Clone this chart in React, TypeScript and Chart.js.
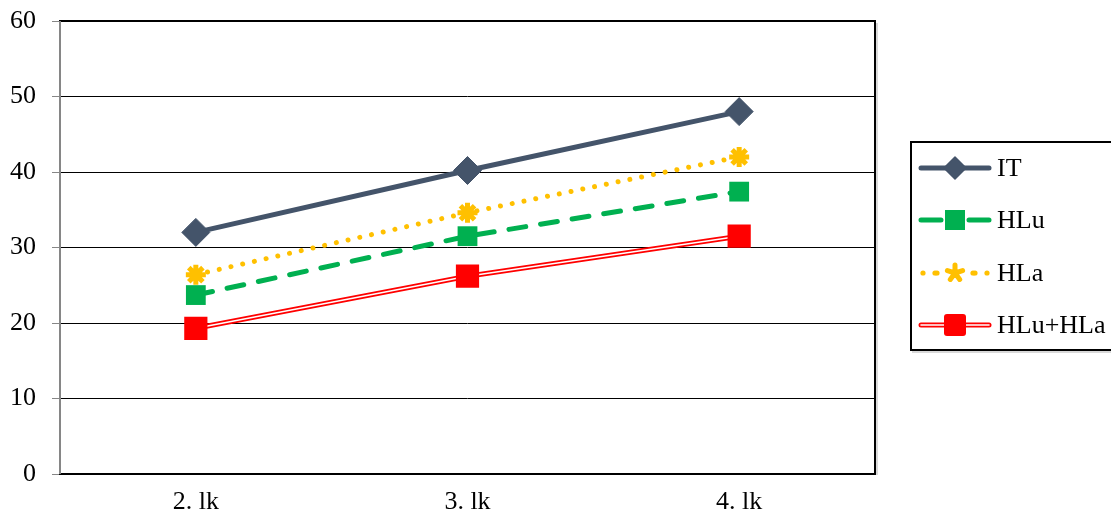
import React, { useEffect, useRef } from "react";
import { Chart, registerables } from "chart.js";

Chart.register(...registerables);

// Categories and series
const categories = ["2. lk", "3. lk", "4. lk"];
const itValues = [32, 40.2, 48];
const hluValues = [23.7, 31.5, 37.4];
const hlaValues = [26.4, 34.6, 42];
const hluHlaValues = [19.3, 26.2, 31.5];
const yTicks = [0, 10, 20, 30, 40, 50, 60];

const FONT = "'Liberation Serif', 'Times New Roman', serif";
const FONT_SIZE = 26;
const C_IT = "#44546A";
const C_HLU = "#00B050";
const C_HLA = "#FFC000";
const C_SUM = "#FF0000";
const AXIS_GREY = "#868686";

// Frame around the plot area and the grey value axis
const framePlugin = {
  id: "frame",
  beforeDatasetsDraw(chart: any) {
    const { ctx, chartArea } = chart;
    const { left, right, top, bottom } = chartArea;
    ctx.save();
    ctx.strokeStyle = "#d9d9d9";
    ctx.lineWidth = 2;
    ctx.beginPath();
    ctx.moveTo(right + 2, top + 2);
    ctx.lineTo(right + 2, bottom + 1);
    ctx.stroke();
    ctx.strokeStyle = "#000";
    ctx.lineWidth = 2;
    ctx.strokeRect(left, top, right - left, bottom - top);
    ctx.strokeStyle = AXIS_GREY;
    ctx.lineWidth = 2;
    ctx.beginPath();
    ctx.moveTo(left, top);
    ctx.lineTo(left, bottom);
    ctx.stroke();
    ctx.restore();
  },
};

type LegendItem = {
  label: string;
  draw: (ctx: CanvasRenderingContext2D, x0: number, x1: number, y: number) => void;
};

const legendItems: LegendItem[] = [
  {
    label: "IT",
    draw(ctx, x0, x1, y) {
      ctx.strokeStyle = C_IT;
      ctx.lineWidth = 5;
      ctx.lineCap = "round";
      ctx.beginPath();
      ctx.moveTo(x0, y);
      ctx.lineTo(x1, y);
      ctx.stroke();
      const cx = (x0 + x1) / 2;
      ctx.fillStyle = C_IT;
      ctx.lineJoin = "round";
      ctx.beginPath();
      ctx.moveTo(cx, y - 11);
      ctx.lineTo(cx + 11, y);
      ctx.lineTo(cx, y + 11);
      ctx.lineTo(cx - 11, y);
      ctx.closePath();
      ctx.fill();
      ctx.lineWidth = 1.5;
      ctx.stroke();
    },
  },
  {
    label: "HLu",
    draw(ctx, x0, x1, y) {
      ctx.strokeStyle = C_HLU;
      ctx.lineWidth = 5;
      ctx.lineCap = "round";
      ctx.beginPath();
      ctx.moveTo(x0, y);
      ctx.lineTo(x0 + 20, y);
      ctx.moveTo(x1 - 20, y);
      ctx.lineTo(x1, y);
      ctx.stroke();
      const cx = (x0 + x1) / 2;
      ctx.fillStyle = C_HLU;
      ctx.fillRect(cx - 10, y - 10, 20, 20);
    },
  },
  {
    label: "HLa",
    draw(ctx, x0, x1, y) {
      ctx.fillStyle = C_HLA;
      const cx = (x0 + x1) / 2;
      [x0 + 2, x0 + 14, cx - 18, cx + 18, x1 - 14, x1 - 2].forEach((dx) => {
        ctx.beginPath();
        ctx.arc(dx, y, 2.6, 0, Math.PI * 2);
        ctx.fill();
      });
      ctx.strokeStyle = C_HLA;
      ctx.lineWidth = 5;
      ctx.lineCap = "round";
      ctx.beginPath();
      for (let i = 0; i < 5; i++) {
        const a = (i * 2 * Math.PI) / 5 - Math.PI / 2;
        ctx.moveTo(cx, y);
        ctx.lineTo(cx + Math.cos(a) * 8, y + Math.sin(a) * 8);
      }
      ctx.stroke();
    },
  },
  {
    label: "HLu+HLa",
    draw(ctx, x0, x1, y) {
      ctx.lineCap = "round";
      ctx.strokeStyle = C_SUM;
      ctx.lineWidth = 5;
      ctx.beginPath();
      ctx.moveTo(x0, y);
      ctx.lineTo(x1, y);
      ctx.stroke();
      ctx.strokeStyle = "#fff";
      ctx.lineWidth = 1.6;
      ctx.beginPath();
      ctx.moveTo(x0, y);
      ctx.lineTo(x1, y);
      ctx.stroke();
      const cx = (x0 + x1) / 2;
      ctx.fillStyle = C_SUM;
      ctx.beginPath();
      (ctx as any).roundRect(cx - 11, y - 11, 22, 22, 3);
      ctx.fill();
    },
  },
];

const legendPlugin = {
  id: "sideLegend",
  afterDraw(chart: any) {
    const { ctx } = chart;
    ctx.save();
    const bx = 911;
    const by = 142;
    const bh = 208;
    ctx.strokeStyle = "#d9d9d9";
    ctx.lineWidth = 2;
    ctx.strokeRect(bx + 2, by + 2, 240, bh);
    ctx.fillStyle = "#fff";
    ctx.fillRect(bx, by, 240, bh);
    ctx.strokeStyle = "#000";
    ctx.lineWidth = 2;
    ctx.strokeRect(bx, by, 240, bh);
    const rows = [168, 220, 273, 325];
    legendItems.forEach((item, i) => {
      const y = rows[i];
      ctx.save();
      item.draw(ctx, 921, 989, y);
      ctx.restore();
      ctx.fillStyle = "#000";
      ctx.font = `${FONT_SIZE}px ${FONT}`;
      ctx.textBaseline = "middle";
      ctx.textAlign = "left";
      ctx.fillText(item.label, 997, y + 1);
    });
    ctx.restore();
  },
};

export default function App() {
  const canvasRef = useRef<HTMLCanvasElement | null>(null);

  useEffect(() => {
    const canvas = canvasRef.current;
    if (!canvas) return;
    // Chart.js paints the first dataset last, so the list runs from top layer to bottom layer.
    const chart = new Chart(canvas, {
      type: "line",
      data: {
        labels: categories,
        datasets: [
          {
            label: "IT",
            data: itValues,
            borderColor: C_IT,
            backgroundColor: C_IT,
            borderWidth: 5,
            pointStyle: "rectRot",
            pointRadius: 14,
            pointBorderWidth: 1,
            pointBorderColor: C_IT,
            pointBackgroundColor: C_IT,
          },
          {
            label: "HLa",
            data: hlaValues,
            borderColor: C_HLA,
            backgroundColor: C_HLA,
            borderWidth: 5,
            borderDash: [0.01, 12],
            borderCapStyle: "round",
            pointStyle: "star",
            pointRadius: 10,
            pointBorderWidth: 5,
            pointBorderColor: C_HLA,
            pointBackgroundColor: C_HLA,
          },
          {
            label: "HLu",
            data: hluValues,
            borderColor: C_HLU,
            backgroundColor: C_HLU,
            borderWidth: 5,
            borderDash: [17, 15],
            borderCapStyle: "round",
            pointStyle: "rect",
            pointRadius: 14,
            pointBorderWidth: 0,
            pointBackgroundColor: C_HLU,
          },
          {
            label: "HLu+HLa",
            data: hluHlaValues,
            borderColor: "#ffffff",
            borderWidth: 1.6,
            pointStyle: "rect",
            pointRadius: 15,
            pointBorderWidth: 2,
            pointBorderColor: C_SUM,
            pointBackgroundColor: C_SUM,
          },
          {
            label: "HLu+HLa outline",
            data: hluHlaValues,
            borderColor: C_SUM,
            borderWidth: 5,
            pointRadius: 0,
          },
        ],
      },
      options: {
        animation: false,
        responsive: false,
        maintainAspectRatio: false,
        layout: { padding: { top: 21, right: 236, left: 0, bottom: 0 } },
        plugins: {
          legend: { display: false },
          tooltip: { enabled: false },
        },
        scales: {
          x: {
            offset: true,
            grid: { display: false, drawTicks: false },
            border: { display: false },
            ticks: {
              color: "#000",
              font: { family: FONT, size: FONT_SIZE },
              padding: 13,
            },
            afterFit(scale: any) {
              scale.height = 43;
              scale.paddingLeft = 0;
              scale.paddingRight = 0;
            },
          },
          y: {
            min: 0,
            max: 60,
            afterBuildTicks(scale: any) {
              scale.ticks = yTicks.map((v) => ({ value: v }));
            },
            grid: {
              color: "#000",
              lineWidth: 1,
              tickColor: AXIS_GREY,
              tickLength: 8,
            },
            border: { display: false },
            ticks: {
              color: "#000",
              font: { family: FONT, size: FONT_SIZE },
              padding: 16,
            },
            afterFit(scale: any) {
              scale.width = 60;
              scale.paddingTop = 0;
              scale.paddingBottom = 0;
            },
          },
        },
      },
      plugins: [framePlugin, legendPlugin],
    });
    return () => chart.destroy();
  }, []);

  return (
    <div style={{ position: "fixed", left: 0, top: 0, width: 1111, height: 517, background: "#fff" }}>
      <canvas ref={canvasRef} width={1111} height={517} />
    </div>
  );
}
